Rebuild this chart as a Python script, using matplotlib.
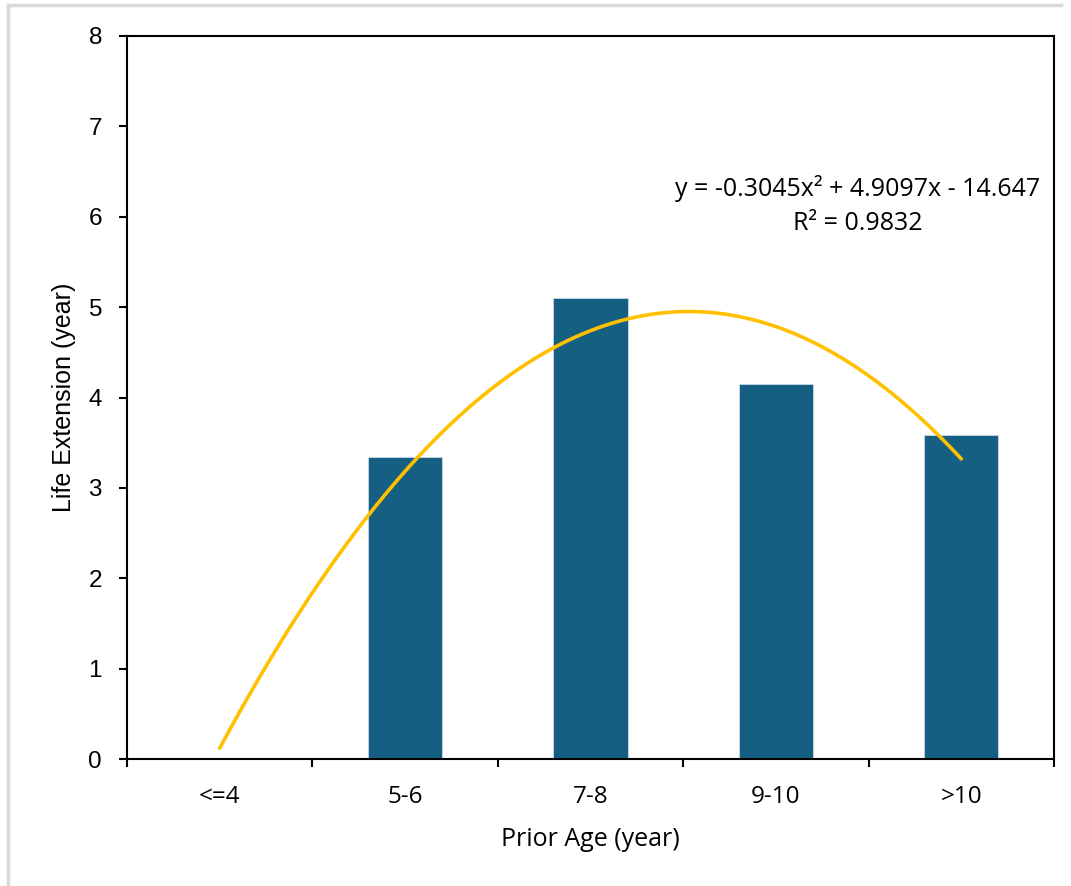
import matplotlib.pyplot as plt
import numpy as np
from matplotlib.lines import Line2D

plt.rcParams["font.family"] = ["Liberation Sans", "DejaVu Sans"]

# data
categories = ["<=4", "5-6", "7-8", "9-10", ">10"]
life_ext = [0, 3.34, 5.10, 4.15, 3.58]

# trendline as drawn, quadratic over category position (0 .. 4)
trend_coef = [-0.7547, 3.819, 0.12]
eq_text = "y = -0.3045x² + 4.9097x - 14.647"
r2_text = "R² = 0.9832"

fig = plt.figure(figsize=(10.71, 8.86), dpi=100)
ax = fig.add_axes([0.1186, 0.1433, 0.8655, 0.8161])

idx = np.arange(len(categories))
ax.bar(idx, life_ext, width=0.4, color="#156082", edgecolor="#c8d8e4", linewidth=0.6, zorder=2)

t = np.linspace(0, len(categories) - 1, 200)
ax.plot(t, np.polyval(trend_coef, t), color="#FFC000", linewidth=2.6,
        solid_capstyle="round", zorder=3)

ax.text(3.44, 6.31, eq_text, ha="center", va="center", fontsize=18, family="Open Sans")
ax.text(3.44, 5.92, r2_text, ha="center", va="center", fontsize=18, family="Open Sans")

ax.set_xlim(-0.5, len(categories) - 0.5)
ax.set_ylim(0, 8)
ax.set_yticks(range(0, 9))

ax.set_xticks(np.arange(-0.5, len(categories), 1))
ax.set_xticklabels([])
ax.set_xticks(idx, minor=True)
ax.set_xticklabels(categories, minor=True, family="Open Sans")
ax.tick_params(axis="x", which="minor", length=0, pad=19, labelsize=17.5)
ax.tick_params(axis="x", which="major", direction="out", length=6, width=1.5)
ax.tick_params(axis="y", direction="out", length=6, width=1.5, labelsize=17.5, pad=12)

for sp in ax.spines.values():
    sp.set_linewidth(1.5)
    sp.set_color("black")

ax.set_xlabel("Prior Age (year)", fontsize=18, family="Open Sans", labelpad=13)
ax.set_ylabel("Life Extension (year)", fontsize=18, labelpad=9)

# light gray border of the chart area
fig.add_artist(Line2D([8 / 1071, 1061 / 1071], [1 - 5 / 886, 1 - 5 / 886], color="#d9d9d9", linewidth=2.5))
fig.add_artist(Line2D([8 / 1071, 8 / 1071], [0, 1 - 5 / 886], color="#d9d9d9", linewidth=2.5))

fig.savefig("out.png", dpi=100)
